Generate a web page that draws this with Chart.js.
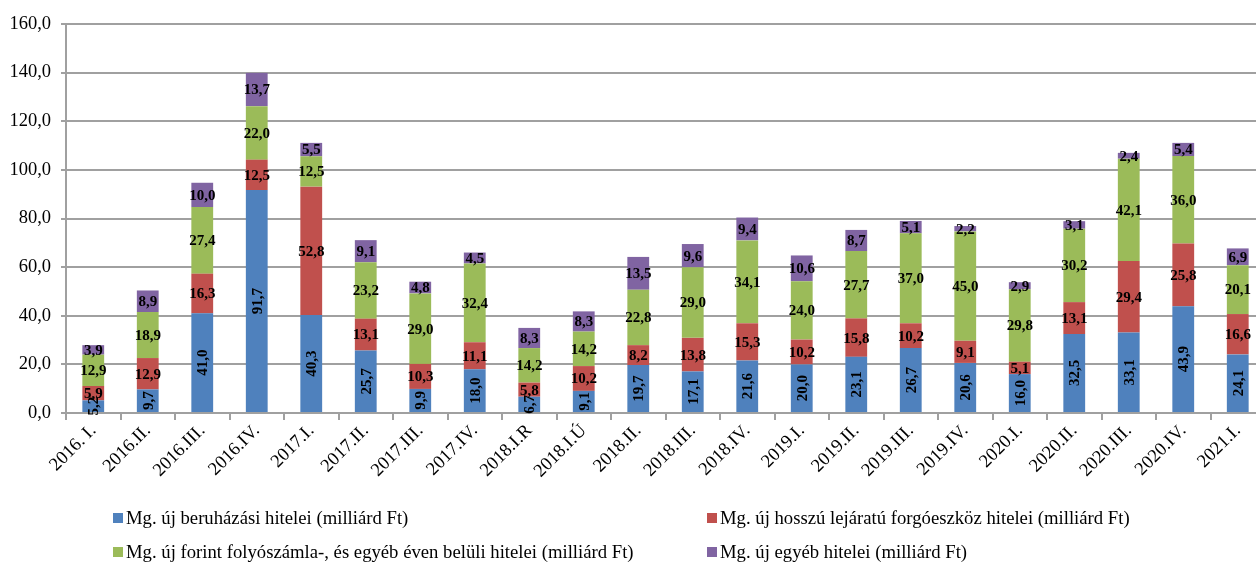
<!DOCTYPE html>
<html>
<head>
<meta charset="utf-8">
<script src="https://cdn.jsdelivr.net/npm/chart.js@4.4.1/dist/chart.umd.min.js"></script>
<style>
  html, body { margin: 0; padding: 0; background: #fff; overflow: hidden; }
  #wrap { position: relative; width: 1256px; height: 563px; overflow: hidden; }
  #hitelChart { position: absolute; left: 0; top: 0; }
  .legend { position: absolute; font-family: 'Liberation Serif', 'Times New Roman', serif; font-size: 18.7px; color: #000; white-space: nowrap; display: flex; align-items: center; }
  .legend i { display: inline-block; width: 10px; height: 10px; margin-right: 3px; }
</style>
</head>
<body>
<div id="wrap">
  <canvas id="hitelChart" width="1270" height="563"></canvas>
  <div id="legend"></div>
</div>
<script>
const quarters = ['2016. I.', '2016.II.', '2016.III.', '2016.IV.', '2017.I.', '2017.II.', '2017.III.', '2017.IV.',
  '2018.I.R', '2018.I.Ú', '2018.II.', '2018.III.', '2018.IV.', '2019.I.', '2019.II.', '2019.III.', '2019.IV.',
  '2020.I.', '2020.II.', '2020.III.', '2020.IV.', '2021.I.'];

const beruhazasi = [5.2, 9.7, 41.0, 91.7, 40.3, 25.7, 9.9, 18.0, 6.7, 9.1, 19.7, 17.1, 21.6, 20.0, 23.1, 26.7, 20.6, 16.0, 32.5, 33.1, 43.9, 24.1];
const forgoeszkoz = [5.9, 12.9, 16.3, 12.5, 52.8, 13.1, 10.3, 11.1, 5.8, 10.2, 8.2, 13.8, 15.3, 10.2, 15.8, 10.2, 9.1, 5.1, 13.1, 29.4, 25.8, 16.6];
const folyoszamla = [12.9, 18.9, 27.4, 22.0, 12.5, 23.2, 29.0, 32.4, 14.2, 14.2, 22.8, 29.0, 34.1, 24.0, 27.7, 37.0, 45.0, 29.8, 30.2, 42.1, 36.0, 20.1];
const egyeb = [3.9, 8.9, 10.0, 13.7, 5.5, 9.1, 4.8, 4.5, 8.3, 8.3, 13.5, 9.6, 9.4, 10.6, 8.7, 5.1, 2.2, 2.9, 3.1, 2.4, 5.4, 6.9];

const seriesNames = [
  'Mg. új beruházási hitelei (milliárd Ft)',
  'Mg. új hosszú lejáratú forgóeszköz hitelei (milliárd Ft)',
  'Mg. új forint folyószámla-, és egyéb éven belüli hitelei (milliárd Ft)',
  'Mg. új egyéb hitelei (milliárd Ft)'
];
const colors = ['#4F81BD', '#C0504D', '#9BBB59', '#8064A2'];

const serif = "'Liberation Serif', 'Times New Roman', serif";
const fmt = (v) => v.toFixed(1).replace('.', ',');

// value labels in the middle of each segment, blue ones turned upright
const segmentLabels = {
  id: 'segmentLabels',
  afterDatasetsDraw(chart) {
    const ctx = chart.ctx;
    ctx.save();
    ctx.fillStyle = '#000';
    ctx.font = 'bold 15px ' + serif;
    ctx.textAlign = 'center';
    ctx.textBaseline = 'middle';
    chart.data.datasets.forEach((ds, i) => {
      const meta = chart.getDatasetMeta(i);
      meta.data.forEach((bar, j) => {
        const y = (bar.y + bar.base) / 2;
        const txt = fmt(ds.data[j]);
        if (i === 0) {
          ctx.save();
          ctx.translate(bar.x, y);
          ctx.rotate(-Math.PI / 2);
          ctx.fillText(txt, 0, 1);
          ctx.restore();
        } else {
          ctx.fillText(txt, bar.x, y + 1);
        }
      });
    });
    ctx.restore();
  }
};

const datasets = [beruhazasi, forgoeszkoz, folyoszamla, egyeb].map((data, i) => ({
  label: seriesNames[i],
  data: data,
  backgroundColor: colors[i],
  barPercentage: 0.4,
  categoryPercentage: 1.0
}));

new Chart(document.getElementById('hitelChart'), {
  type: 'bar',
  data: { labels: quarters, datasets: datasets },
  plugins: [segmentLabels],
  options: {
    responsive: false,
    animation: false,
    layout: { padding: { top: 24, right: 5, left: 0, bottom: 0 } },
    plugins: {
      legend: { display: false },
      tooltip: { enabled: false }
    },
    scales: {
      x: {
        stacked: true,
        afterFit: (scale) => { scale.height = 150; },
        grid: { drawOnChartArea: false, color: '#a0a0a0', lineWidth: 2, tickLength: 7 },
        border: { color: '#a0a0a0', width: 2 },
        ticks: {
          color: '#000',
          font: { family: serif, size: 18.5 },
          minRotation: 45,
          maxRotation: 45,
          padding: 0,
          autoSkip: false
        }
      },
      y: {
        stacked: true,
        min: 0,
        max: 160,
        afterFit: (scale) => { scale.width = 66; },
        grid: { color: '#a0a0a0', lineWidth: 2, tickLength: 5 },
        border: { color: '#a0a0a0', width: 2 },
        ticks: {
          stepSize: 20,
          color: '#000',
          padding: 10,
          font: { family: serif, size: 18.5 },
          callback: (v) => fmt(v)
        }
      }
    }
  }
});

// legend in two columns under the axis
const legendPos = [[113, 518], [707, 518], [113, 552], [707, 552]];
const legendEl = document.getElementById('legend');
seriesNames.forEach((name, i) => {
  const item = document.createElement('div');
  item.className = 'legend';
  item.style.left = legendPos[i][0] + 'px';
  item.style.top = (legendPos[i][1] - 11) + 'px';
  item.style.height = '22px';
  item.innerHTML = '<i style="background:' + colors[i] + '"></i>';
  item.appendChild(document.createTextNode(name));
  legendEl.appendChild(item);
});
</script>
</body>
</html>
